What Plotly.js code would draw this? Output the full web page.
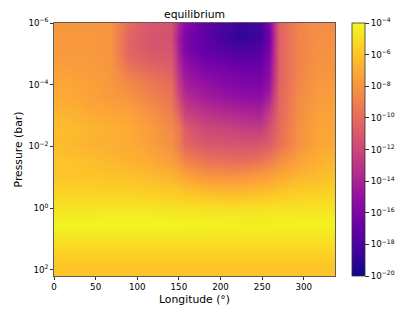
<!DOCTYPE html>
<html><head><meta charset="utf-8"><script src="https://cdn.plot.ly/plotly-3.0.1.min.js"></script>
<style>html,body{margin:0;padding:0;background:#fff}</style></head><body><div id="c" style="width:415px;height:311px"></div>
<script>
var chartTitle = "equilibrium";
var longitudes = [0,22.5,45,67.5,90,112.5,140,150,157.5,180,202.5,225,247.5,258,270,292.5,315,337.5];
var pressureLevels = [1e-6,2.8e-6,8.5e-6,2.7e-5,8.5e-5,2.7e-4,8.5e-4,2.7e-3,8.5e-3,2.7e-2,8.5e-2,0.27,0.85,1.8,3.4,7,18,60,250];
var row00 = [-7.9,-7.9,-7.9,-8.0,-10.0,-11.0,-11.3,-14.0,-15.5,-17.0,-18.0,-18.6,-18.2,-16.0,-10.4,-8.8,-8.4,-8.5];
var row01 = [-7.8,-7.8,-7.8,-8.0,-10.4,-11.2,-11.5,-14.5,-16.0,-17.2,-18.2,-19.0,-18.4,-16.5,-10.6,-8.8,-8.3,-8.2];
var row02 = [-7.8,-7.8,-7.8,-8.0,-10.4,-11.0,-11.2,-14.2,-15.8,-17.0,-17.4,-17.8,-17.6,-16.0,-10.6,-8.8,-8.2,-8.1];
var row03 = [-7.5,-7.6,-7.7,-7.9,-9.6,-10.3,-10.8,-13.5,-15.0,-16.0,-16.4,-16.8,-16.8,-15.5,-10.6,-8.8,-8.1,-8.0];
var row04 = [-7.2,-7.3,-7.5,-7.8,-8.6,-9.2,-10.0,-12.8,-14.3,-15.0,-15.5,-15.9,-16.0,-15.0,-10.5,-8.7,-7.9,-7.8];
var row05 = [-7.0,-7.1,-7.4,-7.7,-8.0,-8.7,-9.6,-11.8,-13.4,-14.2,-14.7,-15.0,-15.2,-14.0,-10.4,-8.5,-7.7,-7.5];
var row06 = [-6.6,-6.7,-7.1,-7.2,-7.4,-8.0,-9.0,-10.6,-12.2,-13.0,-13.5,-13.8,-14.0,-12.5,-10.2,-8.4,-7.5,-7.3];
var row07 = [-6.2,-6.4,-6.6,-6.8,-7.0,-7.6,-8.5,-9.4,-10.8,-11.9,-12.1,-12.4,-12.6,-11.5,-10.0,-8.2,-7.4,-7.2];
var row08 = [-6.3,-6.5,-6.7,-6.8,-7.0,-7.4,-8.2,-9.2,-10.3,-11.0,-11.2,-11.3,-11.2,-10.8,-9.8,-8.2,-7.3,-7.0];
var row09 = [-6.0,-6.1,-6.3,-6.5,-6.7,-7.0,-7.6,-8.2,-8.9,-9.6,-9.9,-10.0,-9.6,-9.2,-8.4,-7.4,-6.9,-6.5];
var row10 = [-6.0,-6.0,-6.0,-6.1,-6.2,-6.4,-6.7,-7.0,-7.4,-8.0,-8.2,-8.2,-7.8,-7.6,-7.2,-6.7,-6.4,-6.1];
var row11 = [-5.5,-5.5,-5.5,-5.5,-5.5,-5.6,-5.8,-5.9,-6.1,-6.3,-6.5,-6.5,-6.3,-6.2,-6.0,-5.7,-5.6,-5.5];
var row12 = [-4.9,-4.9,-4.85,-4.85,-4.85,-4.9,-4.95,-5.0,-5.0,-5.1,-5.1,-5.1,-5.05,-5.0,-5.0,-4.95,-4.9,-4.9];
var row13 = [-4.5,-4.5,-4.45,-4.4,-4.4,-4.4,-4.45,-4.45,-4.5,-4.55,-4.55,-4.55,-4.55,-4.55,-4.5,-4.5,-4.5,-4.5];
var row14 = [-4.2,-4.2,-4.2,-4.2,-4.2,-4.2,-4.2,-4.2,-4.25,-4.3,-4.35,-4.4,-4.4,-4.4,-4.35,-4.3,-4.3,-4.3];
var row15 = [-4.6,-4.6,-4.6,-4.6,-4.6,-4.6,-4.6,-4.6,-4.6,-4.6,-4.65,-4.65,-4.65,-4.65,-4.65,-4.65,-4.65,-4.6];
var row16 = [-5.2,-5.2,-5.2,-5.2,-5.2,-5.2,-5.2,-5.2,-5.2,-5.2,-5.2,-5.2,-5.2,-5.2,-5.2,-5.2,-5.2,-5.2];
var row17 = [-5.9,-5.9,-5.9,-5.9,-5.9,-5.9,-5.9,-5.9,-5.9,-5.9,-5.9,-5.9,-5.9,-5.9,-5.9,-5.9,-5.9,-5.9];
var row18 = [-6.0,-6.0,-6.0,-6.0,-6.0,-6.0,-6.0,-6.0,-6.0,-6.0,-6.0,-6.0,-6.0,-6.0,-6.0,-6.0,-6.0,-6.0];
var logAbundance = [row00,row01,row02,row03,row04,row05,row06,row07,row08,row09,row10,row11,row12,row13,row14,row15,row16,row17,row18];
var cbTicks = [-20,-18,-16,-14,-12,-10,-8,-6,-4];
var yTicks = [1e-6,1e-4,1e-2,1,1e2];
var yExponents = [-6,-4,-2,0,2];
function power(v){return "10<sup>"+String(v).replace("-","\u2212")+"</sup>";}
var cbLabels = cbTicks.map(power);
var yLabels = yExponents.map(power);
var plasma = [[0,"#0d0887"],[0.1,"#41049d"],[0.2,"#6a00a8"],[0.3,"#8f0da4"],[0.4,"#b12a90"],[0.5,"#cc4778"],[0.6,"#e16462"],[0.7,"#f1844b"],[0.8,"#fca636"],[0.9,"#fcce25"],[1,"#f0f921"]];
var font = "DejaVu Sans";
var trace = {type:"heatmap",x:longitudes,y:pressureLevels,z:logAbundance,zsmooth:"best",zmin:-20,zmax:-4,colorscale:plasma,
 colorbar:{x:(352-54)/281,xanchor:"left",y:0.5,yanchor:"middle",len:1,lenmode:"fraction",thickness:13,thicknessmode:"pixels",
  tickmode:"array",tickvals:cbTicks,ticktext:cbLabels,ticks:"outside",ticklen:4,tickwidth:0.8,tickcolor:"#000",tickfont:{family:font,size:8.7,color:"#000"},
  outlinewidth:0.8,outlinecolor:"#333",xpad:0,ypad:0}};
var axisBase = {showgrid:false,zeroline:false,showline:true,mirror:true,linecolor:"#333",linewidth:0.8,ticks:"outside",ticklen:3,tickwidth:0.8,tickcolor:"#000",tickfont:{family:font,size:8.7,color:"#000"}};
var layout = {width:415,height:311,paper_bgcolor:"#fff",plot_bgcolor:"#fff",showlegend:false,
 margin:{l:54,r:80,t:23,b:35,pad:0},
 title:{text:chartTitle,font:{family:font,size:10.8,color:"#000"},x:194.5/415,xanchor:"center",y:1-14/311,yanchor:"middle"},
 xaxis:Object.assign({},axisBase,{range:[0,337.5],tickmode:"array",tickvals:[0,50,100,150,200,250,300],title:{text:"Longitude (\u00b0)",font:{family:font,size:10.8,color:"#000"},standoff:4}}),
 yaxis:Object.assign({},axisBase,{type:"log",range:[2.2,-6],tickmode:"array",tickvals:yTicks,ticktext:yLabels,title:{text:"Pressure (bar)",font:{family:font,size:10.8,color:"#000"},standoff:3}})};
Plotly.newPlot("c",[trace],layout,{displayModeBar:false,staticPlot:true});
</script></body></html>
